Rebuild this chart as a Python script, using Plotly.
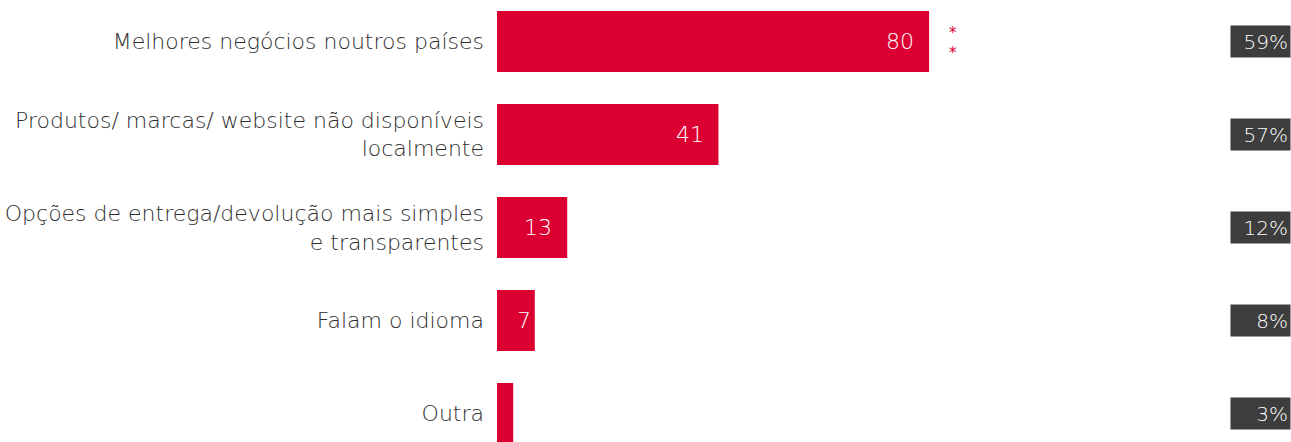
import plotly.graph_objects as go

categories = [
    "Melhores negócios noutros países",
    "Produtos/ marcas/ website não disponíveis<br>localmente",
    "Opções de entrega/devolução mais simples<br>e transparentes",
    "Falam o idioma",
    "Outra",
]
values = [80, 41, 13, 7, 3]
bar_labels = ["80", "41", "13", "7", ""]
right_pct = ["59%", "57%", "12%", "8%", "3%"]

RED = "#dc0032"
GREY = "#2e2e2e"
FONT = "DejaVu Sans"

fig = go.Figure()
fig.add_trace(go.Bar(
    y=list(range(len(categories))), x=values, orientation="h",
    marker=dict(color=RED, line=dict(width=0)),
    hoverinfo="skip",
))

ann = []
shifts = [-13, -12, -13, -2, 0]
for i, (v, t) in enumerate(zip(values, bar_labels)):
    if t:
        ann.append(dict(x=v, y=i, xref="x", yref="y", text=t, showarrow=False,
                        xanchor="right", xshift=shifts[i],
                        font=dict(family=FONT, size=22, color="white", weight=200)))
# significance marker
ann.append(dict(x=values[0], y=0, xref="x", yref="y", text="*<br>*", showarrow=False,
                xanchor="left", xshift=18, yshift=-2,
                font=dict(family=FONT, size=15, color=RED)))
for i, p in enumerate(right_pct):
    ann.append(dict(x=1, y=i, xref="paper", yref="y", text=p, showarrow=False,
                    xanchor="right", align="right", width=55, height=27, borderpad=2,
                    bgcolor="#3d3d3d",
                    font=dict(family=FONT, size=20, color="white", weight=200)))

fig.update_layout(
    width=1291, height=442,
    margin=dict(l=497, r=0, t=0, b=0),
    paper_bgcolor="white", plot_bgcolor="white",
    bargap=0.344,
    showlegend=False,
    annotations=ann,
    xaxis=dict(range=[0, 147], visible=False, fixedrange=True),
    yaxis=dict(range=[4.306, -0.446], tickmode="array",
               tickvals=list(range(len(categories))), ticktext=categories,
               showgrid=False, zeroline=False, showline=False, ticks="",
               ticklabelstandoff=12,
               tickfont=dict(family=FONT, size=22, color=GREY, weight=200)),
)
fig.write_html("out.html")
